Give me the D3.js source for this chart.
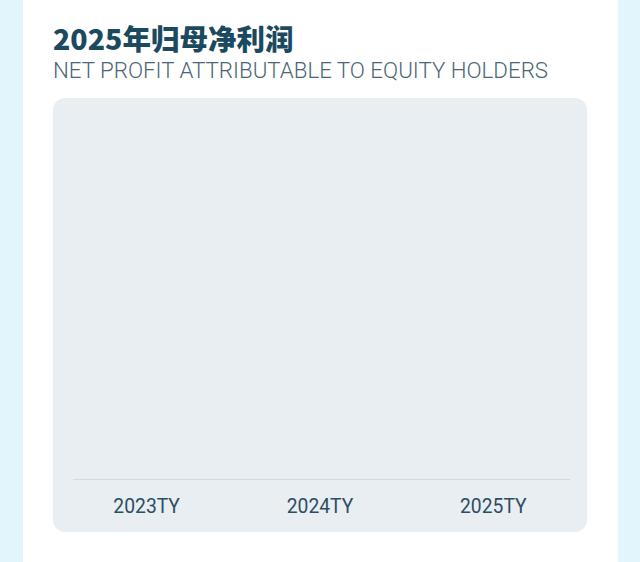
<!DOCTYPE html>
<html><head><meta charset="utf-8">
<script src="https://cdn.jsdelivr.net/npm/d3@7"></script>
<style>html,body{margin:0;padding:0;background:#e2f5fd;}svg{display:block;}</style>
</head><body>
<script>
const categories = ["2023TY", "2024TY", "2025TY"];
const values = [0, 0, 0];
const titleText = "2025年归母净利润";
const subtitleText = "NET PROFIT ATTRIBUTABLE TO EQUITY HOLDERS";

const W = 640, H = 562;
const svg = d3.select("body").append("svg").attr("width", W).attr("height", H);
svg.append("rect").attr("width", W).attr("height", H).attr("fill", "#e2f5fd");
svg.append("rect").attr("x", 23).attr("y", 0).attr("width", 595).attr("height", H).attr("fill", "#ffffff");

svg.append("text").attr("x", 53).attr("y", 50).text(titleText)
  .attr("font-family", "'Noto Sans CJK SC', 'Noto Sans', sans-serif").attr("font-weight", 900)
  .attr("font-size", 28.5).attr("fill", "#1b4a60");
svg.append("text").attr("x", 53).attr("y", 78).text(subtitleText)
  .attr("font-family", "Roboto, sans-serif").attr("font-weight", 300)
  .attr("font-size", 22.3).attr("fill", "#4a6677");

svg.append("rect").attr("x", 53).attr("y", 98).attr("width", 534).attr("height", 434)
  .attr("rx", 12).attr("fill", "#e8eef1");

const x = d3.scaleBand().domain(categories).range([60, 580]).paddingInner(0.5).paddingOuter(0.25);
const y = d3.scaleLinear().domain([0, 1]).range([479, 130]);

svg.append("g").selectAll("rect").data(values).join("rect")
  .attr("x", (d, i) => x(categories[i]))
  .attr("width", x.bandwidth())
  .attr("y", d => y(d))
  .attr("height", d => y(0) - y(d))
  .attr("fill", "#1b4a60");

svg.append("line").attr("x1", 73).attr("x2", 570).attr("y1", 479.5).attr("y2", 479.5)
  .attr("stroke", "#d2dadf").attr("stroke-width", 1);

const ax = svg.append("g").attr("transform", "translate(0,479)")
  .call(d3.axisBottom(x).tickSize(0).tickPadding(0));
ax.select(".domain").remove();
ax.selectAll("text").attr("y", 34).attr("dy", 0)
  .attr("font-family", "Roboto, sans-serif").attr("font-size", 19.3).attr("fill", "#2d4d62");
</script>
</body></html>
